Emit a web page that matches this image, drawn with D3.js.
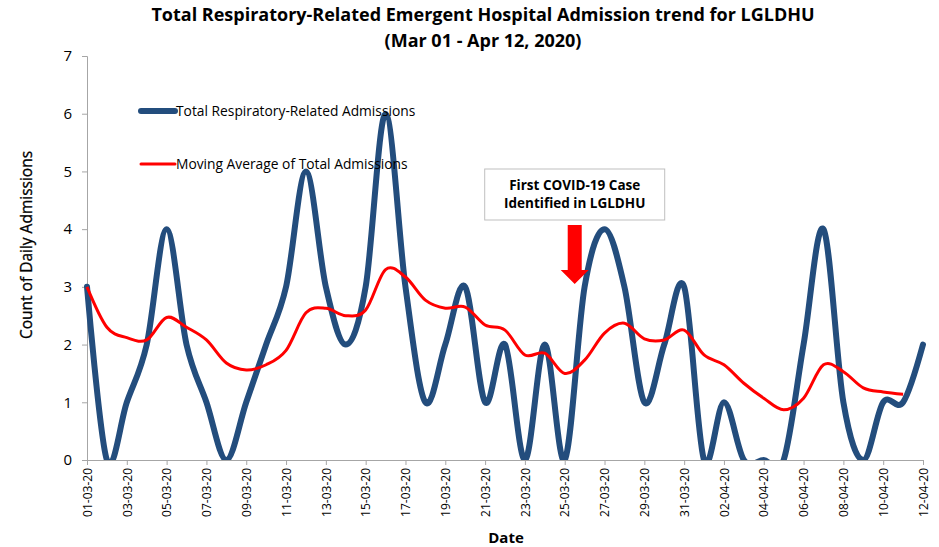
<!DOCTYPE html>
<html>
<head>
<meta charset="utf-8">
<script src="https://cdn.jsdelivr.net/npm/d3@7"></script>
<style>
body{margin:0;background:#fff}
svg{display:block}
</style>
</head>
<body>
<svg id="chart"></svg>
<script>
// day labels 01-03-20 .. 12-04-20
const dates = ['01-03-20','02-03-20','03-03-20','04-03-20','05-03-20','06-03-20','07-03-20','08-03-20','09-03-20','10-03-20',
	'11-03-20','12-03-20','13-03-20','14-03-20','15-03-20','16-03-20','17-03-20','18-03-20','19-03-20','20-03-20',
	'21-03-20','22-03-20','23-03-20','24-03-20','25-03-20','26-03-20','27-03-20','28-03-20','29-03-20','30-03-20',
	'31-03-20','01-04-20','02-04-20','03-04-20','04-04-20','05-04-20','06-04-20','07-04-20','08-04-20','09-04-20',
	'10-04-20','11-04-20','12-04-20']
const admissions = [3,0,1,2,4,2,1,0,1,2,3,5,3,2,3,6,3,1,2,3,1,2,0,2,0,3,4,3,1,2,3,0,1,0,0,0,2,4,1,0,1,1,2]
const movingAvg = [3.0,2.3,2.12,2.08,2.47,2.3,2.08,1.68,1.56,1.65,1.9,2.55,2.63,2.5,2.6,3.3,3.17,2.77,2.63,2.65,
	2.34,2.25,1.82,1.85,1.5,1.73,2.2,2.37,2.1,2.08,2.25,1.82,1.65,1.33,1.07,0.87,1.07,1.65,1.53,1.25,1.18,1.14]
const yTicks = [0,1,2,3,4,5,6,7]
const titleLines = ['Total Respiratory-Related Emergent Hospital Admission trend for LGLDHU','(Mar 01 - Apr 12, 2020)']
const seriesNames = ['Total Respiratory-Related Admissions','Moving Average of Total Admissions']
const noteLines = ['First COVID-19 Case','Identified in LGLDHU']
const noteDay = '25-03-20'

const W = 939, H = 547
const mrgn = {top:56, right:16, bottom:87, left:87}
const font = 'Open Sans, sans-serif'
const blue = '#234d7d', red = '#ff0000', axisCol = '#a6a6a6'

const svg = d3.select('#chart').attr('width',W).attr('height',H).attr('font-family',font)

const x = d3.scalePoint().domain(dates).range([mrgn.left, W - mrgn.right])
const y = d3.scaleLinear().domain([0,7]).range([H - mrgn.bottom, mrgn.top])

// plot area clip (lines are cut at the axis like the spreadsheet)
svg.append('clipPath').attr('id','plotClip').append('rect')
	.attr('x',mrgn.left - 10).attr('y',0)
	.attr('width',W - mrgn.left + 10).attr('height',H - mrgn.bottom)

// title
svg.selectAll('.title').data(titleLines).enter().append('text')
	.attr('x',483).attr('y',(d,i)=> 21 + i*26)
	.attr('text-anchor','middle').attr('font-weight','bold').attr('font-size','18px')
	.attr('fill','#000')
	.text(d=>d)

// axes
const yAxis = svg.append('g').attr('transform',`translate(${mrgn.left},0)`)
	.call(d3.axisLeft(y).tickValues(yTicks).tickSize(5).tickPadding(10).tickFormat(d3.format('d')))
yAxis.selectAll('path,line').attr('stroke',axisCol)
yAxis.selectAll('text').attr('font-size','15px').attr('fill','#000').attr('font-family',font)

const xAxis = svg.append('g').attr('transform',`translate(0,${H - mrgn.bottom})`)
	.call(d3.axisBottom(x).tickValues(dates.filter((d,i)=> i % 2 == 0)).tickSize(5).tickSizeOuter(0))
xAxis.selectAll('path,line').attr('stroke',axisCol)
xAxis.selectAll('text')
	.attr('font-size','12px').attr('fill','#000').attr('font-family',font)
	.attr('transform','rotate(-90)')
	.attr('text-anchor','end')
	.attr('x',-8).attr('y',0).attr('dy','0.35em')

// axis titles
svg.append('text')
	.attr('transform',`translate(32,245) rotate(-90)`)
	.attr('text-anchor','middle').attr('font-size','15.5px').attr('fill','#000')
	.attr('stroke','#000').attr('stroke-width',0.3)
	.text('Count of Daily Admissions')
svg.append('text')
	.attr('x',506).attr('y',543).attr('text-anchor','middle')
	.attr('font-weight','bold').attr('font-size','15px').attr('fill','#000')
	.text('Date')

// lines (smoothed like the spreadsheet)
const line = d3.line().x((d,i)=> x(dates[i])).y(d=> y(d)).curve(d3.curveCatmullRom.alpha(0))

const plot = svg.append('g').attr('clip-path','url(#plotClip)')

plot.append('path').datum(admissions)
	.attr('d',line).attr('fill','none').attr('stroke',blue)
	.attr('stroke-width',6).attr('stroke-linejoin','round').attr('stroke-linecap','round')

plot.append('path').datum(movingAvg)
	.attr('d',line).attr('fill','none').attr('stroke',red)
	.attr('stroke-width',3).attr('stroke-linejoin','round')

// legend
const legendG = svg.selectAll('.legend').data(seriesNames).enter().append('g')
	.attr('transform',(d,i)=>`translate(141,${111 + i*53})`)
legendG.append('line')
	.attr('x1',0).attr('x2',34).attr('y1',0).attr('y2',0)
	.attr('stroke',(d,i)=> i == 0 ? blue : red)
	.attr('stroke-width',(d,i)=> i == 0 ? 6 : 3)
	.attr('stroke-linecap','round')
legendG.append('text')
	.attr('x',35).attr('y',0).attr('dy','0.35em')
	.attr('font-size','13.8px').attr('fill','#000')
	.text(d=>d)

// annotation box + arrow
const nx = x(noteDay) + 10
const note = svg.append('g')
note.append('rect')
	.attr('x',nx - 90).attr('y',169).attr('width',180).attr('height',51)
	.attr('fill','#fff').attr('stroke','#bfbfbf').attr('stroke-width',1)
note.selectAll('text').data(noteLines).enter().append('text')
	.attr('x',nx).attr('y',(d,i)=> 190 + i*18)
	.attr('text-anchor','middle').attr('font-weight','bold').attr('font-size','13.5px').attr('fill','#000')
	.text(d=>d)
note.append('path')
	.attr('d',`M${nx-7},225 L${nx+7},225 L${nx+7},270 L${nx+14},270 L${nx},284 L${nx-14},270 L${nx-7},270 Z`)
	.attr('fill',red)
</script>
</body>
</html>
